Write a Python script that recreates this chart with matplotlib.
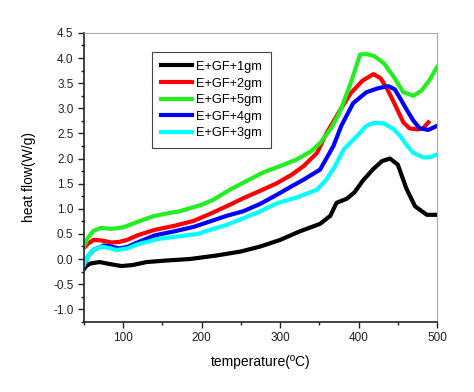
import numpy as np
import matplotlib
matplotlib.use("Agg")
import matplotlib.pyplot as plt
from matplotlib.ticker import MultipleLocator

plt.rcParams['font.family'] = ['Liberation Sans', 'DejaVu Sans']

# curves (temperature in C, heat flow in W/g)
t_1gm = [50, 53, 58, 70, 83, 98, 112, 130, 155, 185, 219, 250, 275, 300, 325, 351, 364, 372, 385, 395, 405, 418, 430, 440, 450, 461, 472, 487, 500]
hf_1gm = [-0.2, -0.14, -0.09, -0.06, -0.1, -0.14, -0.12, -0.06, -0.03, 0.0, 0.07, 0.15, 0.25, 0.38, 0.55, 0.7, 0.86, 1.12, 1.2, 1.33, 1.55, 1.78, 1.95, 2.0, 1.88, 1.4, 1.05, 0.88, 0.88]

t_2gm = [50, 55, 62, 72, 85, 95, 105, 118, 140, 165, 190, 211, 236, 253, 275, 296, 315, 330, 347, 359, 376, 390, 405, 419, 428, 436, 444, 451, 457, 465, 475, 482, 489]
hf_2gm = [0.22, 0.3, 0.38, 0.37, 0.33, 0.34, 0.38, 0.47, 0.58, 0.66, 0.76, 0.9, 1.08, 1.21, 1.36, 1.51, 1.68, 1.85, 2.11, 2.5, 2.95, 3.3, 3.55, 3.68, 3.6, 3.4, 3.15, 2.92, 2.72, 2.6, 2.58, 2.6, 2.72]

t_5gm = [50, 55, 62, 72, 85, 100, 115, 138, 160, 172, 200, 215, 236, 257, 278, 300, 321, 340, 351, 365, 376, 390, 402, 410, 420, 432, 445, 457, 470, 480, 490, 500]
hf_5gm = [0.25, 0.42, 0.56, 0.62, 0.6, 0.63, 0.72, 0.85, 0.92, 0.95, 1.08, 1.18, 1.38, 1.55, 1.72, 1.85, 1.98, 2.15, 2.31, 2.6, 2.92, 3.5, 4.07, 4.08, 4.04, 3.9, 3.62, 3.32, 3.25, 3.35, 3.55, 3.82]

t_4gm = [50, 55, 62, 75, 85, 95, 105, 120, 140, 165, 190, 211, 232, 253, 275, 296, 315, 330, 351, 368, 378, 393, 410, 425, 438, 446, 453, 461, 470, 478, 489, 500]
hf_4gm = [-0.15, 0.05, 0.18, 0.27, 0.25, 0.21, 0.24, 0.34, 0.47, 0.55, 0.64, 0.75, 0.86, 0.95, 1.1, 1.28, 1.45, 1.58, 1.78, 2.25, 2.65, 3.1, 3.32, 3.4, 3.44, 3.38, 3.2, 2.98, 2.75, 2.6, 2.57, 2.65]

t_3gm = [50, 55, 62, 72, 82, 92, 105, 120, 145, 170, 195, 211, 232, 253, 275, 296, 320, 347, 359, 370, 381, 398, 410, 419, 432, 445, 453, 462, 470, 483, 492, 500]
hf_3gm = [-0.12, 0.05, 0.18, 0.25, 0.22, 0.18, 0.21, 0.3, 0.4, 0.45, 0.5, 0.58, 0.68, 0.81, 0.95, 1.11, 1.22, 1.38, 1.58, 1.85, 2.18, 2.45, 2.65, 2.71, 2.7, 2.58, 2.45, 2.25, 2.11, 2.02, 2.03, 2.08]

labels = ["E+GF+1gm", "E+GF+2gm", "E+GF+5gm", "E+GF+4gm", "E+GF+3gm"]
colors = ["#000000", "#ff0000", "#22ee22", "#0000ff", "#00ffff"]
series = [(t_1gm, hf_1gm), (t_2gm, hf_2gm), (t_5gm, hf_5gm), (t_4gm, hf_4gm), (t_3gm, hf_3gm)]

fig = plt.figure(figsize=(4.74, 3.92), dpi=100)
ax = fig.add_axes([0.177, 0.179, 0.745, 0.737])

for (t, hf), lab, c in zip(series, labels, colors):
    ax.plot(t, hf, color=c, lw=3, label=lab, solid_joinstyle='round')

ax.set_xlim(50, 500)
ax.set_ylim(-1.25, 4.5)
ax.set_xticks([100, 200, 300, 400, 500])
ax.xaxis.set_minor_locator(MultipleLocator(50))
ax.set_yticks(np.arange(-1.0, 4.51, 0.5))
ax.yaxis.set_minor_locator(MultipleLocator(0.25))
ax.yaxis.set_major_formatter(matplotlib.ticker.FormatStrFormatter('%.1f'))
ax.tick_params(which='both', direction='out', labelsize=8.5, width=1, colors='#222222')
ax.tick_params(which='major', length=4)
ax.tick_params(which='minor', length=2.5)
ax.tick_params(top=False, right=False)

for s in ['top', 'right']:
    ax.spines[s].set_color('#aaaaaa')
for s in ['left', 'bottom']:
    ax.spines[s].set_color('#222222')
    ax.spines[s].set_linewidth(1.2)

ax.set_xlabel("temperature(ºC)", fontsize=10, labelpad=8)
ax.set_ylabel("heat flow(W/g)", fontsize=10, labelpad=12)

leg = ax.legend(loc='upper left', bbox_to_anchor=(0.193, 0.934), borderaxespad=0,
                fontsize=9.2, handlelength=2.4, handletextpad=0.35, fancybox=False,
                framealpha=1, edgecolor='#444444', labelspacing=0.36, borderpad=0.7)
leg.get_frame().set_linewidth(0.8)

fig.savefig("out.png", dpi=100)
